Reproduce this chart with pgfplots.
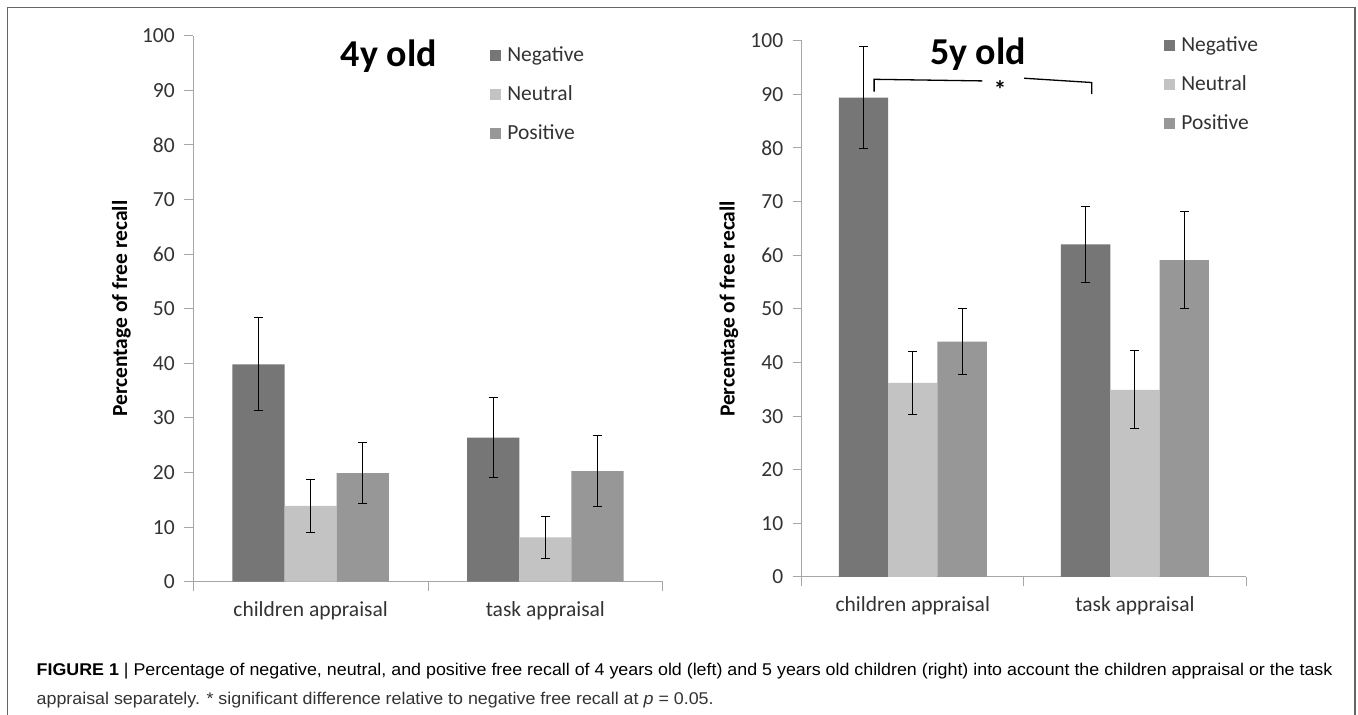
\documentclass[border=0pt]{standalone}
\usepackage{pgfplots}
\pgfplotsset{compat=1.18}
\usepackage{fontspec}
\setmainfont{Carlito}
\newfontfamily\capfont{Liberation Sans}
\definecolor{negc}{HTML}{767676}
\definecolor{neuc}{HTML}{C3C3C3}
\definecolor{posc}{HTML}{979797}
\definecolor{axc}{HTML}{A6A6A6}
\definecolor{txc}{HTML}{333333}

\pgfplotstableread{
x  neg  negerr  neu  neuerr  pos  poserr
0  39.8 8.5     13.9 4.85    19.9 5.6
1  26.4 7.4     8.1  3.9     20.25 6.45
}\fourdata
\pgfplotstableread{
x  neg  negerr  neu  neuerr  pos  poserr
0  89.4 9.45    36.2 5.9     43.9 6.2
1  62.0 7.1     34.9 7.3     59.1 9.1
}\fivedata

\pgfplotsset{
  panel/.style={
    scale only axis,
    anchor=south west,
    xmin=-0.5, xmax=1.5, ymin=0, ymax=100,
    ybar=0pt, bar width=0.222,
    axis x line*=bottom, axis y line*=left,
    axis line style={axc, line width=1bp},
    tick style={axc, line width=1bp},
    major tick length=9bp, tick align=outside,
    xtick={-0.5,0.5,1.5}, xticklabels={},
    extra x ticks={0,1},
    extra x tick labels={children appraisal,task appraisal},
    extra x tick style={major tick length=0pt},
    xticklabel style={yshift=-16bp},
    ytick={0,10,...,100},
    yticklabel style={xshift=-6bp},
    ticklabel style={font=\fontsize{21.5bp}{24bp}\selectfont, text=txc},
    /pgf/number format/assume math mode=true,
    ylabel={Percentage of free recall},
    ylabel style={font=\fontsize{21.5bp}{24bp}\selectfont\bfseries, text=black},
    legend style={draw=none, fill=none, anchor=north west,
      font=\fontsize{21.5bp}{24bp}\selectfont, text=txc,
      row sep=20bp, column sep=6bp,
      nodes={inner sep=0pt, text height=15bp, text depth=4bp}},
    legend cell align=left,
    clip=false,
  },
  sq/.style={legend image code/.code={\fill[##1] (0bp,-5.5bp) rectangle (11bp,5.5bp);}},
  eb/.style={error bars/.cd, y dir=both, y explicit,
    error bar style={black, line width=1bp},
    error mark options={rotate=90, mark size=4.5bp, black, line width=1bp}},
}

\newsavebox\capA
\newlength\capw

\begin{document}
\sbox\capA{\capfont\fontsize{17bp}{20bp}\selectfont\textbf{FIGURE 1} | Percentage of negative, neutral, and positive free recall of 4 years old (left) and 5 years old children (right) into account the children appraisal or the task}%
\setlength\capw{\wd\capA}%
\pgfmathsetmacro\capscale{1300.7/\capw}%
\begin{tikzpicture}
\useasboundingbox (0bp,0bp) rectangle (1358bp,715bp);
\fill[white] (0bp,0bp) rectangle (1358bp,715bp);
\draw[black!60, line width=1.6bp] (7.5bp,-5bp) -- (7.5bp,707.5bp) -- (1355bp,707.5bp) -- (1355bp,-5bp);

% ---- left panel: 4y old
\begin{axis}[panel, at={(193.3bp,133.3bp)}, width=469.4bp, height=546bp,
  ylabel style={at={(axis description cs:-0.153,0.5)}, anchor=center},
  legend style={at={(axis description cs:0.626,0.985)}}]
\addplot[fill=negc, draw=none, sq, eb] table[x=x, y=neg, y error=negerr]{\fourdata};
\addplot[fill=neuc, draw=none, sq, eb] table[x=x, y=neu, y error=neuerr]{\fourdata};
\addplot[fill=posc, draw=none, sq, eb] table[x=x, y=pos, y error=poserr]{\fourdata};
\legend{Negative,Neutral,Positive}
\node[font=\fontsize{38bp}{40bp}\selectfont\bfseries, text=black] at (axis cs:0.333,96.3) {4y old};
\end{axis}

% ---- right panel: 5y old
\begin{axis}[panel, at={(801.7bp,138bp)}, width=444.3bp, height=536.3bp,
  ylabel style={at={(axis description cs:-0.164,0.5)}, anchor=center},
  legend style={at={(axis description cs:0.809,1.012)}}]
\addplot[fill=negc, draw=none, sq, eb] table[x=x, y=neg, y error=negerr]{\fivedata};
\addplot[fill=neuc, draw=none, sq, eb] table[x=x, y=neu, y error=neuerr]{\fivedata};
\addplot[fill=posc, draw=none, sq, eb] table[x=x, y=pos, y error=poserr]{\fivedata};
\legend{Negative,Neutral,Positive}
\node[font=\fontsize{38bp}{40bp}\selectfont\bfseries, text=black] at (axis cs:0.294,97.5) {5y old};
\draw[black, line width=1.3bp] (axis cs:-0.174,90.5) -- (axis cs:-0.174,92.8) -- (axis cs:0.3135,92.5);
\draw[black, line width=1.3bp] (axis cs:0.501,93.0) -- (axis cs:0.806,92.2) -- (axis cs:0.806,90.1);
\node[font=\fontsize{25bp}{26bp}\selectfont\bfseries] at (axis cs:0.393,90.9) {*};
\end{axis}

% ---- caption
\node[anchor=west, inner sep=0pt, text=txc] at (36.5bp,44bp) {\scalebox{\capscale}[1]{\usebox\capA}};
\node[anchor=west, inner sep=0pt, text=txc] at (36.5bp,15bp) {\scalebox{\capscale}[1]{\capfont\fontsize{17bp}{20bp}\selectfont appraisal separately. * significant difference relative to negative free recall at \textit{p} = 0.05.}};
\end{tikzpicture}
\end{document}
